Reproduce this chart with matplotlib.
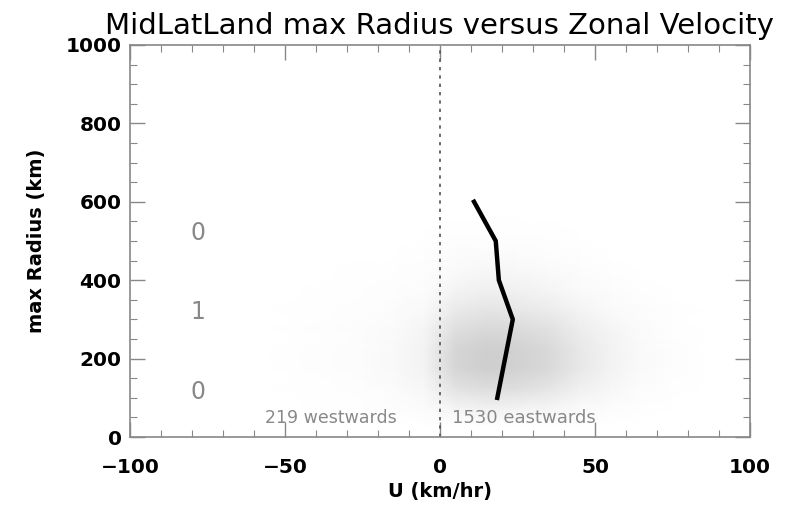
import numpy as np
import matplotlib
matplotlib.use('Agg')
import matplotlib.pyplot as plt
from matplotlib.colors import LinearSegmentedColormap

# density of the grey storm dots (counts per 10 km/hr x 50 km cell)
u_centres = [-55, -45, -35, -25, -15, -5, 5, 15, 25, 35, 45, 55, 65, 75, 85]
r_centres = [25, 75, 125, 175, 225, 275, 325, 375, 425, 475, 525, 575]
counts = [
    [0, 0, 0, 0, 0, 0, 0, 0, 0, 0, 0, 0, 0, 0, 0],
    [0, 0, 1, 2, 3, 6, 16, 20, 18, 14, 8, 4, 2, 0, 0],
    [0, 1, 2, 3, 6, 12, 42, 50, 48, 38, 22, 12, 5, 2, 0],
    [0, 2, 3, 5, 9, 18, 60, 70, 66, 55, 34, 18, 8, 3, 0],
    [0, 2, 3, 5, 9, 18, 60, 70, 66, 55, 34, 18, 8, 3, 0],
    [0, 1, 3, 4, 7, 14, 46, 56, 52, 44, 26, 14, 6, 2, 0],
    [0, 1, 2, 3, 5, 9, 30, 38, 34, 28, 16, 8, 4, 1, 0],
    [0, 0, 1, 2, 3, 5, 16, 22, 20, 14, 8, 4, 2, 0, 0],
    [0, 0, 0, 1, 1, 3, 8, 12, 10, 7, 4, 2, 0, 0, 0],
    [0, 0, 0, 0, 0, 1, 4, 6, 5, 3, 2, 0, 0, 0, 0],
    [0, 0, 0, 0, 0, 0, 1, 2, 2, 1, 0, 0, 0, 0, 0],
    [0, 0, 0, 0, 0, 0, 0, 0, 0, 0, 0, 0, 0, 0, 0],
]

# mean zonal velocity per radius bin (black curve)
mean_r = [100, 200, 300, 400, 500, 600]
mean_u = [18.5, 21, 23.5, 19, 18, 11]

# histogram numbers at the left
hist_r = [115, 320, 520]
hist_n = ['0', '1', '0']
hist_u = -78

n_west = 219
n_east = 1530

fig = plt.figure(figsize=(7.97, 5.16), dpi=100)
ax = fig.add_axes([0.163, 0.153, 0.778, 0.760])

cmap = LinearSegmentedColormap.from_list('dots', ['white', '#cfcfcf'])
ax.pcolormesh(u_centres, r_centres, np.array(counts), cmap=cmap, shading='gouraud',
              vmin=0, vmax=70, zorder=1)

ax.axvline(0, color='#555555', linestyle=(0, (2, 3)), linewidth=1.2, zorder=2)
ax.plot(mean_u, mean_r, color='black', linewidth=3.2, solid_joinstyle='round', zorder=3)

for r, n in zip(hist_r, hist_n):
    ax.text(hist_u, r, n, color='#888888', fontsize=17, ha='center', va='center')

ax.text(-56.5, 48, f'{n_west} westwards', color='#888888', fontsize=12.5, ha='left', va='center')
ax.text(4, 48, f'{n_east} eastwards', color='#888888', fontsize=13, ha='left', va='center')

ax.set_xlim(-100, 100)
ax.set_ylim(0, 1000)
ax.set_xticks([-100, -50, 0, 50, 100])
ax.set_xticks(np.arange(-100, 101, 10), minor=True)
ax.set_yticks(np.arange(0, 1001, 200))
ax.set_yticks(np.arange(0, 1001, 50), minor=True)
ax.tick_params(which='both', direction='in', top=True, right=True, color='#888888')
ax.tick_params(which='major', length=11, width=1, labelsize=14.5)
ax.tick_params(axis='x', which='major', pad=15)
ax.tick_params(axis='y', which='major', pad=6)
ax.tick_params(which='minor', length=5, width=0.8)
for lab in ax.get_xticklabels() + ax.get_yticklabels():
    lab.set_fontweight('bold')
for s in ax.spines.values():
    s.set_color('#888888')
    s.set_linewidth(1.2)

ax.set_xlabel('U (km/hr)', fontsize=14, fontweight='bold', labelpad=4)
ax.set_ylabel('max Radius (km)', fontsize=14, fontweight='bold', labelpad=14)
ax.set_title('MidLatLand max Radius versus Zonal Velocity', fontsize=21, pad=8)

fig.savefig('out.png', dpi=100)
